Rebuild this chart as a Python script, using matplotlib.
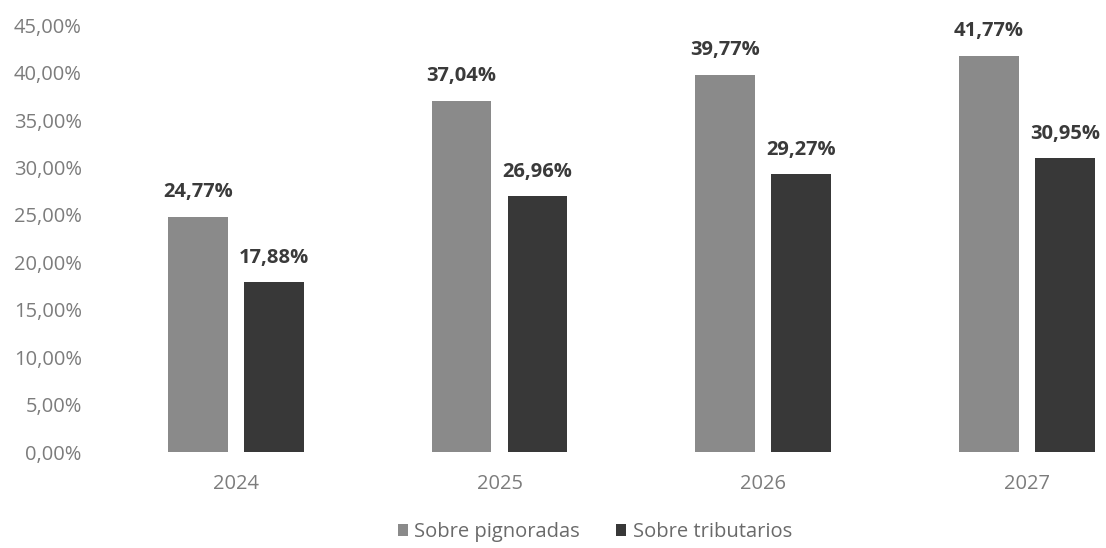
import matplotlib
matplotlib.use("Agg")
import matplotlib.pyplot as plt
import numpy as np

plt.rcParams['font.family'] = ['Open Sans', 'DejaVu Sans']

# data
years = ["2024", "2025", "2026", "2027"]
pignoradas = [24.77, 37.04, 39.77, 41.77]
tributarios = [17.88, 26.96, 29.27, 30.95]
series_names = ["Sobre pignoradas", "Sobre tributarios"]


def pct(v):
    return f"{v:.2f}%".replace(".", ",")


fig = plt.figure(figsize=(11.06, 5.48), dpi=100)
ax = fig.add_axes([0.094, 0.175, 0.906, 0.779])

x = np.arange(len(years))
w = 0.227
off = 0.144
b1 = ax.bar(x - off, pignoradas, w, color="#8a8a8a", label=series_names[0])
b2 = ax.bar(x + off, tributarios, w, color="#383838", label=series_names[1])

for bars, vals in ((b1, pignoradas), (b2, tributarios)):
    for b, v in zip(bars, vals):
        ax.text(b.get_x() + b.get_width() / 2, v + 2.6, pct(v),
                ha="center", va="center", fontsize=14.5, fontweight="bold",
                color="#3a3a3a")

ax.set_ylim(0, 45)
ax.set_xlim(-0.5, 3.3)
ax.set_yticks(np.arange(0, 46, 5))
ax.set_yticklabels([pct(t) for t in np.arange(0, 46, 5)])
ax.set_xticks(x)
ax.set_xticklabels(years)
ax.tick_params(axis="both", length=0, labelsize=14.5, labelcolor="#7c7c7c")
ax.tick_params(axis="x", pad=16)
ax.tick_params(axis="y", pad=16)
for s in ax.spines.values():
    s.set_visible(False)

fig.legend(handles=[b1, b2], loc="lower center", bbox_to_anchor=(0.538, -0.022),
           ncol=2, frameon=False, fontsize=14.5, handlelength=0.5,
           handleheight=0.5, handletextpad=0.3, columnspacing=1.8,
           labelcolor="#6a6a6a")

fig.savefig("out.png", dpi=100)
